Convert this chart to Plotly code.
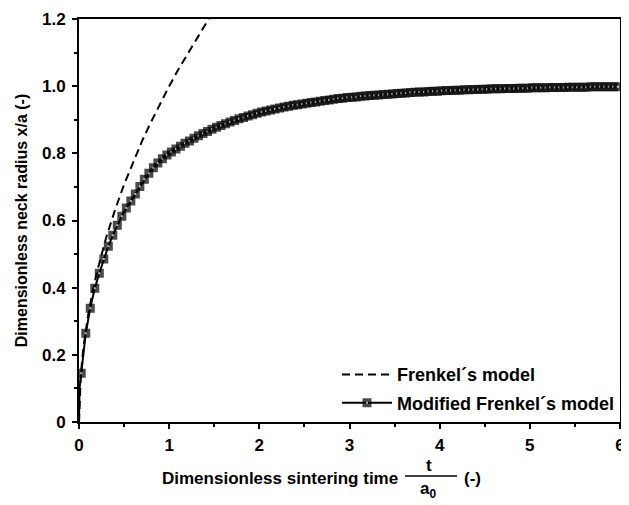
import plotly.graph_objects as go

# Frenkel's model (dashed)
t_frenkel = [0.0, 0.01, 0.02, 0.05, 0.1, 0.15, 0.2, 0.3, 0.4, 0.5, 0.6, 0.7,
             0.8, 0.9, 1.0, 1.1, 1.2, 1.3, 1.4, 1.5]
y_frenkel = [0.0, 0.100, 0.141, 0.224, 0.316, 0.387, 0.447, 0.548, 0.632, 0.707,
             0.775, 0.837, 0.894, 0.949, 1.000, 1.049, 1.095, 1.140, 1.183, 1.225]

# Modified Frenkel's model
t_start = [0.0, 0.006]
y_start = [0.0, 0.10]
t_mod = [round(0.025 + 0.05 * k, 3) for k in range(120)]
y_mod = [0.145, 0.264, 0.339, 0.398, 0.443, 0.485, 0.523, 0.556, 0.586, 0.613,
         0.637, 0.658, 0.679, 0.701, 0.723, 0.741, 0.757, 0.771, 0.784, 0.795,
         0.804, 0.813, 0.821, 0.830, 0.837, 0.845, 0.852, 0.859, 0.865, 0.872,
         0.878, 0.883, 0.888, 0.893, 0.898, 0.903, 0.907, 0.911, 0.915, 0.919,
         0.923, 0.926, 0.929, 0.932, 0.935, 0.938, 0.940, 0.943, 0.945, 0.947,
         0.949, 0.951, 0.953, 0.955, 0.957, 0.959, 0.961, 0.963, 0.964, 0.966,
         0.967, 0.968, 0.970, 0.971, 0.972, 0.973, 0.974, 0.975, 0.976, 0.977,
         0.978, 0.979, 0.980, 0.981, 0.982, 0.983, 0.983, 0.984, 0.985, 0.985,
         0.986, 0.987, 0.987, 0.988, 0.988, 0.989, 0.989, 0.990, 0.990, 0.991,
         0.991, 0.992, 0.992, 0.992, 0.993, 0.993, 0.993, 0.994, 0.994, 0.994,
         0.995, 0.995, 0.995, 0.995, 0.996, 0.996, 0.996, 0.996, 0.997, 0.997,
         0.997, 0.997, 0.997, 0.998, 0.998, 0.998, 0.998, 0.998, 0.998, 0.998]

x_ticks = [0, 1, 2, 3, 4, 5, 6]
y_ticks = [0, 0.2, 0.4, 0.6, 0.8, 1.0, 1.2]
y_tick_labels = ["0", "0.2", "0.4", "0.6", "0.8", "1.0", "1.2"]

FONT = "Liberation Sans, Arial, sans-serif"

fig = go.Figure()
fig.add_trace(go.Scatter(
    x=t_frenkel, y=y_frenkel, mode="lines", name="Frenkel´s model",
    line=dict(color="black", width=2, dash="8px,5px"),
    legendgroup="a",
))
t_all = t_start + t_mod
y_all = y_start + y_mod
sizes = [0] * len(t_start) + [5.5] * len(t_mod)
fig.add_trace(go.Scatter(
    x=t_all, y=y_all, mode="lines+markers", name="Modified Frenkel´s model",
    line=dict(color="black", width=2),
    marker=dict(symbol="square", size=sizes, color="white",
                line=dict(color="black", width=3.5)),
    legendgroup="b",
))

axis_common = dict(
    showline=True, linecolor="black", linewidth=2, mirror=True,
    ticks="outside", ticklen=5, tickwidth=2, tickcolor="black",
    showgrid=False, zeroline=False, automargin=False,
    tickfont=dict(family=FONT, size=17, color="black", weight="bold"),
)

fig.update_xaxes(range=[0, 6], tickvals=x_ticks, ticklabelstandoff=2,
                 minor=dict(ticks="outside", ticklen=3, tickwidth=2,
                            tickcolor="black", dtick=0.5, showgrid=False),
                 **axis_common)
fig.update_yaxes(range=[0, 1.2], tickvals=y_ticks, ticktext=y_tick_labels,
                 ticklabelstandoff=3,
                 minor=dict(ticks="outside", ticklen=3, tickwidth=2,
                            tickcolor="black", dtick=0.1, showgrid=False),
                 title=dict(text="Dimensionless neck radius x/a (-)", standoff=10,
                            font=dict(family=FONT, size=16, color="black", weight="bold")),
                 **axis_common)

# page coordinates (the page body has an 8 px margin)
W0, W1 = 79, 620
H0, H1 = 19, 422
def px_x(px):
    return (px - W0) / (W1 - W0)
def px_y(py):
    return (H1 - py) / (H1 - H0)

tf = dict(family=FONT, size=17, color="black", weight="bold")
fig.add_annotation(text="Dimensionless sintering time", xref="paper", yref="paper",
                   x=px_x(400), y=px_y(478), xanchor="right", yanchor="middle",
                   showarrow=False, font=tf)
fig.add_annotation(text="t", xref="paper", yref="paper",
                   x=px_x(429), y=px_y(466), xanchor="center", yanchor="middle",
                   showarrow=False, font=tf)
fig.add_annotation(text="a<sub>0</sub>", xref="paper", yref="paper",
                   x=px_x(428), y=px_y(490), xanchor="center", yanchor="middle",
                   showarrow=False, font=tf)
fig.add_annotation(text="(-)", xref="paper", yref="paper",
                   x=px_x(462), y=px_y(478), xanchor="left", yanchor="middle",
                   showarrow=False, font=tf)
fig.add_shape(type="line", xref="paper", yref="paper",
              x0=px_x(405), x1=px_x(457), y0=px_y(476), y1=px_y(476),
              line=dict(color="black", width=1.5))

fig.update_layout(
    width=621, height=497,
    margin=dict(l=71, r=9, t=11, b=83, autoexpand=False),
    plot_bgcolor="white", paper_bgcolor="white",
    showlegend=True,
    legend=dict(x=1.0, y=0.002, xanchor="right", yanchor="bottom",
                bgcolor="rgba(0,0,0,0)", tracegroupgap=2, traceorder="grouped",
                itemwidth=50,
                font=dict(family=FONT, size=18, color="black", weight="bold")),
)

fig.write_html("out.html")
